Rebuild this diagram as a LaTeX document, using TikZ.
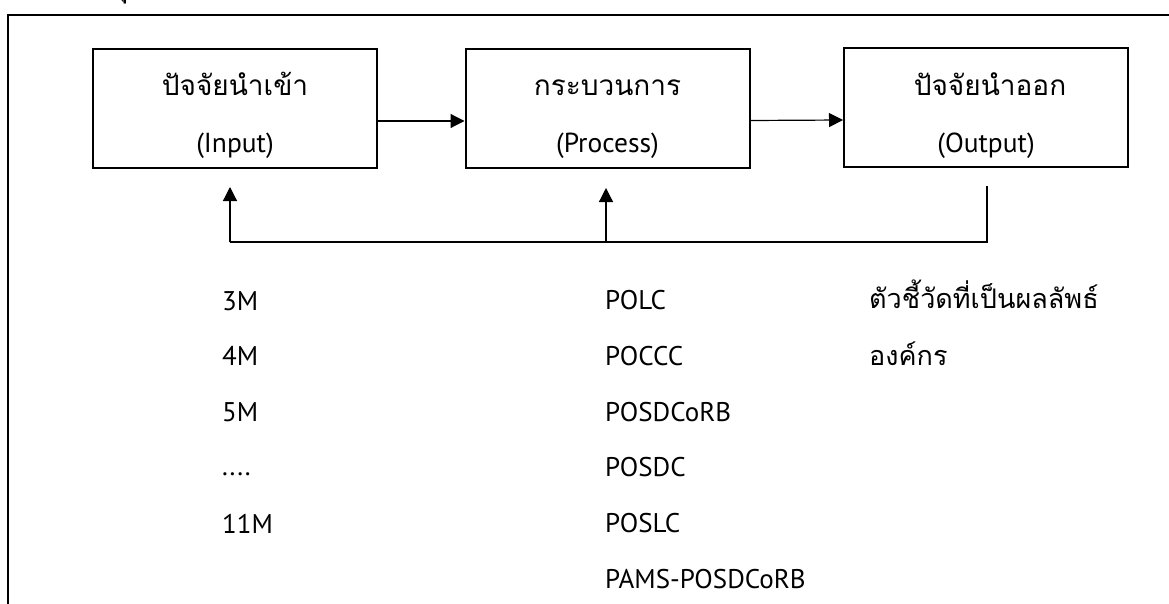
\documentclass[tikz,border=0pt]{standalone}
\usepackage{fontspec}
\setmainfont{PT Sans}
\newfontfamily\thaifont[Script=Thai]{Loma}
\usetikzlibrary{arrows.meta}
\begin{document}
\begin{tikzpicture}[x=1pt,y=-1pt,
  box/.style={draw,line width=2pt,minimum width=284pt,minimum height=119pt,inner sep=0pt},
  thtext/.style={font=\thaifont\fontsize{28}{32}\selectfont,anchor=base,inner sep=0pt},
  lattext/.style={font=\fontsize{27.5}{32}\selectfont,anchor=base,inner sep=0pt},
  listtext/.style={font=\fontsize{27}{32}\selectfont,anchor=base west,inner sep=0pt},
  listthai/.style={font=\thaifont\fontsize{27}{32}\selectfont,anchor=base west,inner sep=0pt},
  conn/.style={line width=1.2pt},
  arr/.style={conn,-{Triangle[length=14pt,width=14pt]}},
  frame/.style={line width=2pt}]
\useasboundingbox (0,0) rectangle (1169,604);
\clip (0,0) rectangle (1169,604);
% frame
\coordinate (frTR) at (1180,15);
\coordinate (frTL) at (8,15);
\coordinate (frBL) at (8,615);
\draw[frame] (frTR) -- (frTL) -- (frBL);
\node[font=\thaifont\bfseries\fontsize{25}{30}\selectfont,anchor=base,inner sep=0pt] (frag) at (120,-2) {ทุ};
% boxes
\node[box] (in) at (235,108.5) {};
\node[box] (proc) at (607.5,108.5) {};
\node[box] (out) at (986,108) {};
% box texts
\node[thtext] (inTh) at (235,96) {ปัจจัยนำเข้า};
\node[lattext] (inEn) at (235,153) {(Input)};
\node[thtext] (procTh) at (607.5,96) {กระบวนการ};
\node[lattext] (procEn) at (607.5,153) {(Process)};
\node[thtext] (outTh) at (990,96) {ปัจจัยนำออก};
\node[lattext] (outEn) at (986,153) {(Output)};
% forward arrows
\draw[arr] ([yshift=-12.5pt]in.east) -- ([yshift=-12.5pt]proc.west);
\draw[arr] ([yshift=-12pt]proc.east) -- ([yshift=-12pt]out.west);
% feedback
\coordinate (fbS) at (987,186);
\coordinate (fbL) at (230,242);
\coordinate (fbP) at (606,242);
\coordinate (tipIn) at (230,187);
\coordinate (tipProc) at (606,188);
\draw[conn] (fbS) |- (fbL);
\draw[arr] (fbL) -- (tipIn);
\draw[arr] (fbP) -- (tipProc);
% lists
\node[listtext] (l1) at (222,310) {3M};
\node[listtext] (l2) at (222,365) {4M};
\node[listtext] (l3) at (222,421) {5M};
\node[listtext] (l4) at (222,475) {....};
\node[listtext] (l5) at (222,533) {11M};
\node[listtext] (m1) at (605,309) {POLC};
\node[listtext] (m2) at (605,365) {POCCC};
\node[listtext] (m3) at (605,421) {POSDCoRB};
\node[listtext] (m4) at (605,476) {POSDC};
\node[listtext] (m5) at (605,532) {POSLC};
\node[listtext] (m6) at (605,588) {PAMS-POSDCoRB};
\node[listthai] (r1) at (869,308) {ตัวชี้วัดที่เป็นผลลัพธ์};
\node[listthai] (r2) at (869,365) {องค์กร};
\end{tikzpicture}
\end{document}
